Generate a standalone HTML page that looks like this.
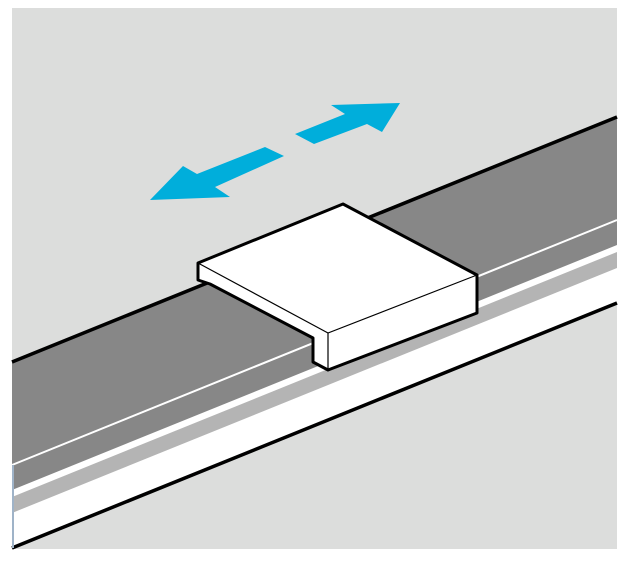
<!DOCTYPE html>
<html><head><meta charset="utf-8"><style>html,body{margin:0;padding:0;background:#fff}svg{display:block}</style></head>
<body>
<svg width="626" height="561" viewBox="0 0 626 561" xmlns="http://www.w3.org/2000/svg">
<rect x="12" y="8" width="605" height="541" fill="#dcdddc"/>
<!-- rail -->
<polygon points="12,362 617,117 617,303 12,548" fill="#ffffff"/>
<polygon points="12,362 617,117 617,245 12,490" fill="#878787"/>
<polygon points="12,497 617,252 617,268 12,513" fill="#b4b4b4"/>
<line x1="12" y1="465" x2="617" y2="220" stroke="#fff" stroke-width="2"/>
<line x1="12" y1="362" x2="617" y2="117" stroke="#000" stroke-width="3.5"/>
<line x1="12" y1="548" x2="617" y2="303" stroke="#000" stroke-width="3.5"/>
<line x1="13" y1="465" x2="13" y2="548" stroke="#9fb3c8" stroke-width="2"/>
<!-- block -->
<polygon points="198,263 343,204 477,275 477,313 328,370 313,362 313,338 210,284 198,280" fill="#fff" stroke="#000" stroke-width="3" stroke-linejoin="round"/>
<polyline points="198,263 328,333 477,275" fill="none" stroke="#000" stroke-width="1.2"/>
<line x1="328" y1="333" x2="328" y2="370" stroke="#000" stroke-width="1.2"/>
<!-- arrows -->
<polygon points="150,200 183,166 197,174 265,147 284,156 215,187 230,197" fill="#00aedb"/>
<polygon points="400,103 331,105 345,114 295,134 314,144 367,124 382,132" fill="#00aedb"/>
</svg>
</body></html>
